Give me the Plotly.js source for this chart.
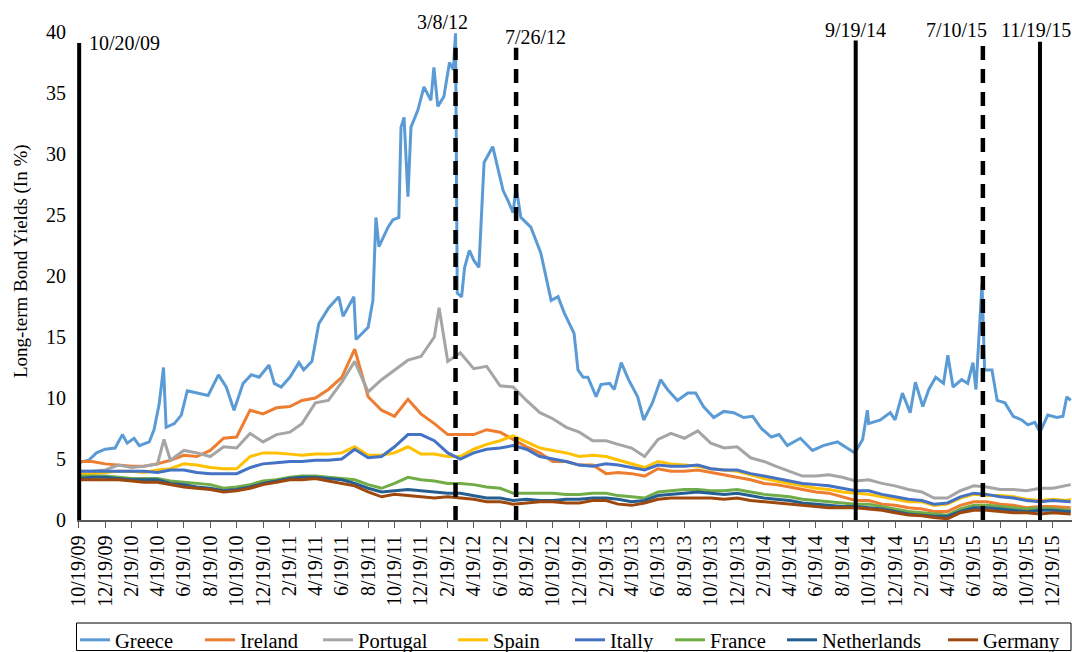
<!DOCTYPE html>
<html>
<head>
<meta charset="utf-8">
<script src="https://cdn.plot.ly/plotly-3.0.1.min.js"></script>
<style>
html,body{margin:0;padding:0;background:#fff;}
#chart{width:1072px;height:652px;}
</style>
</head>
<body>
<div id="chart"></div>
<script>
// ---- Greece (read at turning points) ----
const greeceDates = ["2009-10-19","2009-11-11","2009-11-29","2009-12-19","2010-01-11","2010-01-28","2010-02-08","2010-02-24","2010-03-08","2010-03-31","2010-04-11","2010-04-23","2010-05-03","2010-05-09","2010-05-28","2010-06-13","2010-06-27","2010-07-22","2010-08-14","2010-09-07","2010-09-25","2010-10-13","2010-11-03","2010-11-22","2010-12-10","2011-01-02","2011-01-14","2011-01-30","2011-02-19","2011-03-12","2011-03-23","2011-04-11","2011-04-27","2011-05-20","2011-06-12","2011-06-22","2011-07-17","2011-07-22","2011-08-19","2011-08-30","2011-09-06","2011-09-13","2011-10-04","2011-10-15","2011-10-29","2011-11-03","2011-11-10","2011-11-19","2011-11-26","2011-12-12","2011-12-26","2012-01-11","2012-01-18","2012-01-27","2012-02-10","2012-02-23","2012-03-03","2012-03-08","2012-03-12","2012-03-22","2012-03-29","2012-04-09","2012-04-19","2012-05-01","2012-05-13","2012-06-02","2012-06-14","2012-06-26","2012-07-07","2012-07-19","2012-07-26","2012-08-06","2012-08-29","2012-09-21","2012-10-15","2012-10-31","2012-11-14","2012-12-07","2012-12-16","2012-12-28","2013-01-08","2013-01-27","2013-02-07","2013-02-27","2013-03-10","2013-03-26","2013-04-12","2013-05-03","2013-05-17","2013-06-06","2013-06-25","2013-07-11","2013-08-03","2013-08-27","2013-09-14","2013-10-02","2013-10-26","2013-11-18","2013-12-11","2014-01-03","2014-01-24","2014-02-13","2014-03-08","2014-03-26","2014-04-14","2014-05-14","2014-06-11","2014-07-06","2014-08-08","2014-09-17","2014-10-05","2014-10-16","2014-10-19","2014-11-15","2014-12-08","2014-12-19","2015-01-05","2015-01-23","2015-02-04","2015-02-21","2015-03-07","2015-03-23","2015-04-10","2015-04-20","2015-05-02","2015-05-22","2015-06-05","2015-06-17","2015-06-24","2015-07-01","2015-07-08","2015-07-14","2015-07-31","2015-08-12","2015-08-30","2015-09-18","2015-10-08","2015-10-22","2015-11-07","2015-11-19","2015-12-07","2015-12-28","2016-01-11","2016-01-20","2016-01-29"];
const greece = [4.7,4.9,5.5,5.8,5.9,7.0,6.3,6.7,6.1,6.4,7.4,9.5,12.5,7.6,7.9,8.6,10.6,10.4,10.2,11.9,10.9,9.0,11.2,11.9,11.7,12.7,11.2,10.9,11.7,12.9,12.3,13.0,16.1,17.4,18.3,16.7,18.3,14.8,15.8,18.0,24.8,22.4,24.0,24.6,24.8,32.2,33.0,26.5,32.2,33.6,35.5,34.4,37.1,33.9,34.7,37.5,36.9,39.9,18.6,18.3,20.7,22.1,21.3,20.7,29.3,30.6,28.9,27.0,26.2,25.2,27.3,24.8,24.0,21.9,18.0,18.3,17.0,15.3,12.3,11.7,11.7,10.1,11.1,11.2,10.7,12.9,11.5,10.1,8.2,9.6,11.5,10.7,9.8,10.4,10.4,9.3,8.4,8.9,8.8,8.4,8.5,7.5,6.8,7.0,6.1,6.7,5.7,6.1,6.4,5.5,6.6,9.0,7.9,8.2,8.8,8.2,10.4,8.8,11.3,9.3,10.7,11.7,11.2,13.5,10.9,11.5,11.2,12.9,10.7,15.3,19.4,12.3,12.3,9.8,9.6,8.5,8.2,7.8,8.0,7.2,8.6,8.4,8.5,10.1,9.8];

// ---- Other countries (monthly readings) ----
const months = ["2009-10-19","2009-11-19","2009-12-19",
"2010-01-19","2010-02-19","2010-03-19","2010-04-19","2010-05-19","2010-06-19","2010-07-19","2010-08-19","2010-09-19","2010-10-19","2010-11-19","2010-12-19",
"2011-01-19","2011-02-19","2011-03-19","2011-04-19","2011-05-19","2011-06-19","2011-07-19","2011-08-19","2011-09-19","2011-10-19","2011-11-19","2011-12-19",
"2012-01-19","2012-02-19","2012-03-19","2012-04-19","2012-05-19","2012-06-19","2012-07-19","2012-08-19","2012-09-19","2012-10-19","2012-11-19","2012-12-19",
"2013-01-19","2013-02-19","2013-03-19","2013-04-19","2013-05-19","2013-06-19","2013-07-19","2013-08-19","2013-09-19","2013-10-19","2013-11-19","2013-12-19",
"2014-01-19","2014-02-19","2014-03-19","2014-04-19","2014-05-19","2014-06-19","2014-07-19","2014-08-19","2014-09-19","2014-10-19","2014-11-19","2014-12-19",
"2015-01-19","2015-02-19","2015-03-19","2015-04-19","2015-05-19","2015-06-19","2015-07-19","2015-08-19","2015-09-19","2015-10-19","2015-11-19","2015-12-19",
"2016-01-19","2016-01-29"];

// Portugal has two extra readings for its visible spikes (May 2010, end of Jan 2012)
const portugalDates = ["2009-10-19","2009-11-19","2009-12-19",
"2010-01-19","2010-02-19","2010-03-19","2010-04-19","2010-05-04","2010-05-19","2010-06-19","2010-07-19","2010-08-19","2010-09-19","2010-10-19","2010-11-19","2010-12-19",
"2011-01-19","2011-02-19","2011-03-19","2011-04-19","2011-05-19","2011-06-19","2011-07-19","2011-08-19","2011-09-19","2011-10-19","2011-11-19","2011-12-19",
"2012-01-19","2012-01-30","2012-02-19","2012-03-19","2012-04-19","2012-05-19","2012-06-19","2012-07-19","2012-08-19","2012-09-19","2012-10-19","2012-11-19","2012-12-19",
"2013-01-19","2013-02-19","2013-03-19","2013-04-19","2013-05-19","2013-06-19","2013-07-19","2013-08-19","2013-09-19","2013-10-19","2013-11-19","2013-12-19",
"2014-01-19","2014-02-19","2014-03-19","2014-04-19","2014-05-19","2014-06-19","2014-07-19","2014-08-19","2014-09-19","2014-10-19","2014-11-19","2014-12-19",
"2015-01-19","2015-02-19","2015-03-19","2015-04-19","2015-05-19","2015-06-19","2015-07-19","2015-08-19","2015-09-19","2015-10-19","2015-11-19","2015-12-19",
"2016-01-19","2016-01-29"];
const portugal = [4.0,4.0,4.1,4.5,4.3,4.4,4.6,6.6,4.9,5.7,5.5,5.2,6.0,5.9,7.1,6.4,7.0,7.2,7.9,9.6,9.8,11.3,13.0,10.5,11.5,12.3,13.1,13.4,15.0,17.4,13.0,13.7,12.4,12.6,11.0,10.9,9.8,8.8,8.3,7.6,7.2,6.5,6.5,6.2,5.9,5.2,6.6,7.1,6.7,7.3,6.3,5.9,6.0,5.1,4.8,4.4,4.0,3.6,3.6,3.7,3.5,3.2,3.3,3.0,2.8,2.5,2.3,1.8,1.8,2.4,2.8,2.7,2.5,2.5,2.4,2.6,2.6,2.8,2.9];

const ireland = [4.8,4.8,4.6,4.5,4.4,4.4,4.6,4.9,5.3,5.2,5.7,6.7,6.8,9.0,8.7,9.2,9.3,9.8,10.0,10.7,11.7,14.0,10.1,9.0,8.5,9.9,8.7,7.9,7.0,7.0,7.0,7.4,7.2,6.6,6.0,5.5,4.8,4.8,4.5,4.5,3.8,3.9,3.8,3.6,4.2,4.0,4.0,4.1,3.9,3.7,3.5,3.3,3.0,2.9,2.7,2.5,2.3,2.2,1.9,1.6,1.6,1.3,1.2,1.0,0.9,0.7,0.7,1.2,1.5,1.5,1.3,1.2,1.0,1.1,1.1,1.0,1.0];
const spain = [3.7,3.8,3.9,4.0,4.0,3.9,4.1,4.2,4.6,4.5,4.3,4.2,4.2,5.2,5.5,5.5,5.4,5.3,5.4,5.4,5.5,6.0,5.3,5.3,5.5,6.0,5.4,5.4,5.2,5.2,5.8,6.2,6.5,6.9,6.4,5.9,5.7,5.5,5.2,5.3,5.2,4.9,4.6,4.3,4.8,4.6,4.5,4.4,4.2,4.1,4.0,3.7,3.4,3.2,3.0,2.8,2.6,2.5,2.3,2.2,2.1,1.9,1.7,1.5,1.5,1.2,1.3,1.8,2.1,2.0,2.0,1.9,1.7,1.6,1.7,1.6,1.7];
const italy = [4.0,4.0,4.0,4.0,4.0,4.0,3.9,4.1,4.1,3.9,3.8,3.8,3.8,4.3,4.6,4.7,4.8,4.8,4.9,4.9,5.0,5.8,5.1,5.2,6.0,7.0,7.0,6.5,5.5,5.0,5.5,5.8,5.9,6.1,5.8,5.2,5.0,4.8,4.5,4.4,4.6,4.5,4.3,4.1,4.5,4.4,4.4,4.5,4.2,4.1,4.1,3.8,3.6,3.4,3.2,3.0,2.9,2.8,2.6,2.4,2.4,2.1,1.9,1.7,1.6,1.3,1.4,1.9,2.2,2.1,1.9,1.8,1.6,1.5,1.6,1.5,1.5];
const france = [3.6,3.6,3.6,3.5,3.4,3.4,3.4,3.2,3.1,3.0,2.9,2.6,2.7,2.9,3.2,3.3,3.5,3.6,3.6,3.5,3.4,3.3,2.9,2.6,3.0,3.5,3.3,3.2,3.0,3.0,2.9,2.7,2.6,2.2,2.2,2.2,2.2,2.1,2.1,2.2,2.2,2.0,1.9,1.8,2.3,2.4,2.5,2.5,2.4,2.4,2.5,2.3,2.1,2.0,1.9,1.7,1.6,1.5,1.4,1.3,1.3,1.1,0.9,0.7,0.6,0.5,0.4,0.9,1.2,1.2,1.1,1.0,0.9,1.0,0.9,0.8,0.8];
const netherlands = [3.4,3.5,3.5,3.4,3.3,3.3,3.3,3.0,2.9,2.7,2.6,2.4,2.5,2.7,3.0,3.2,3.4,3.5,3.5,3.4,3.3,3.0,2.6,2.3,2.4,2.5,2.4,2.3,2.2,2.2,2.0,1.8,1.8,1.6,1.7,1.6,1.6,1.7,1.7,1.8,1.8,1.7,1.5,1.6,2.0,2.1,2.2,2.3,2.2,2.1,2.2,2.0,1.8,1.7,1.6,1.4,1.3,1.2,1.1,1.1,1.0,0.9,0.7,0.5,0.4,0.3,0.3,0.7,1.0,1.0,0.9,0.8,0.7,0.8,0.8,0.7,0.7];
const germany = [3.3,3.3,3.3,3.3,3.2,3.1,3.1,2.9,2.7,2.6,2.5,2.3,2.4,2.6,2.9,3.1,3.3,3.3,3.4,3.2,3.0,2.8,2.3,1.9,2.1,2.0,1.9,1.8,1.9,1.8,1.7,1.5,1.5,1.3,1.4,1.5,1.5,1.4,1.4,1.6,1.6,1.3,1.2,1.4,1.7,1.8,1.8,1.8,1.8,1.7,1.8,1.6,1.5,1.4,1.3,1.2,1.1,1.0,1.0,1.0,0.9,0.8,0.6,0.4,0.35,0.2,0.1,0.6,0.8,0.8,0.7,0.6,0.6,0.5,0.6,0.5,0.5];

// ---- Event markers ----
const eventDates  = ["2009-10-20","2012-03-08","2012-07-26","2014-09-19","2015-07-10","2015-11-19"];
const eventLabels = ["10/20/09","3/8/12","7/26/12","9/19/14","7/10/15","11/19/15"];
const eventDashed = [false,true,true,false,true,false];

const names  = ["Greece","Ireland","Portugal","Spain","Itally","France","Netherlands","Germany"];
const colors = ["#5B9BD5","#ED7D31","#A5A5A5","#FFC000","#4472C4","#70AD47","#255E91","#9E480E"];
const seriesY = [greece, ireland, portugal, spain, italy, france, netherlands, germany];
const seriesX = [greeceDates, months, portugalDates, months, months, months, months, months];

const FONT = "Liberation Serif, Times New Roman, serif";

// pixel layout of the reference
const L = 77, W = 995, T = 32, H = 488;
const px2paperX = p => (p - L) / W;
const px2paperY = p => (T + H - p) / H;

const legendPx = [75, 200, 318, 453, 570, 670, 782, 943];
const legendKeys = ["legend","legend2","legend3","legend4","legend5","legend6","legend7","legend8"];

const traces = names.map((n, i) => ({
  type: "scatter", mode: "lines", name: n,
  x: seriesX[i], y: seriesY[i],
  line: {color: colors[i], width: 3},
  legend: legendKeys[i],
  showlegend: true
}));

const layout = {
  width: 1072, height: 652,
  margin: {l: L, r: 1072 - L - W, t: T, b: 652 - T - H, autoexpand: false},
  paper_bgcolor: "#fff", plot_bgcolor: "#fff",
  font: {family: FONT, color: "#000", size: 20},
  showlegend: true,
  xaxis: {
    type: "date",
    range: ["2009-10-15", "2016-02-01"],
    tickmode: "linear", tick0: "2009-10-19", dtick: "M2",
    tickformat: "%-m/%-d/%y", tickangle: -90,
    ticks: "outside", ticklen: 6, tickcolor: "#595959", tickwidth: 1,
    showline: true, linecolor: "#595959", linewidth: 1.5,
    showgrid: false, zeroline: false,
    tickfont: {family: FONT, size: 20, color: "#000"}
  },
  yaxis: {
    range: [0, 40], dtick: 5, tick0: 0,
    showgrid: false, zeroline: false, showline: false, ticks: "",
    ticklabelstandoff: 10,
    tickfont: {family: FONT, size: 20, color: "#000"}
  },
  shapes: [],
  annotations: []
};

// event lines + labels
const lineTops = [39.1, 38.7, 38.7, 39.3, 39.3, 39.2];
const labelPy  = [43, 22, 37, 30, 30, 30];
const labelAnchor = ["left","center","left","center","center","center"];
const labelShift  = [8, -13, -13, 0, -26, -4];
eventDates.forEach((d, i) => {
  layout.shapes.push({
    type: "line", xref: "x", yref: "y", x0: d, x1: d, y0: 0, y1: lineTops[i],
    line: {color: "#000", width: eventDashed[i] ? 4.5 : 4, dash: eventDashed[i] ? "14px,9px" : "solid"},
    layer: "above"
  });
  layout.annotations.push({
    xref: "x", yref: "paper", x: d, y: px2paperY(labelPy[i]), text: eventLabels[i],
    showarrow: false, xanchor: labelAnchor[i], yanchor: "middle", xshift: labelShift[i],
    font: {family: FONT, size: 20, color: "#000"}
  });
});

// y-axis title, placed as in the reference
layout.annotations.push({
  xref: "paper", yref: "paper", x: px2paperX(21), y: px2paperY(261),
  text: "Long-term Bond Yields (In %)", textangle: -90, showarrow: false,
  xanchor: "center", yanchor: "middle",
  font: {family: FONT, size: 19, color: "#000"}
});

// legend frame
layout.shapes.push({
  type: "rect", xref: "paper", yref: "paper",
  x0: px2paperX(76.5), x1: px2paperX(1071), y0: px2paperY(623), y1: px2paperY(650.5),
  line: {color: "#000", width: 1}, fillcolor: "rgba(0,0,0,0)", layer: "above"
});

// one legend per entry, positioned like the reference
legendKeys.forEach((k, i) => {
  layout[k] = {
    orientation: "h", x: px2paperX(legendPx[i]), xanchor: "left",
    y: px2paperY(640), yanchor: "middle",
    bgcolor: "rgba(0,0,0,0)", borderwidth: 0,
    font: {family: FONT, size: 20.5, color: "#000"},
    itemclick: false, itemdoubleclick: false
  };
});

Plotly.newPlot("chart", traces, layout, {displayModeBar: false, staticPlot: true});
</script>
</body>
</html>
